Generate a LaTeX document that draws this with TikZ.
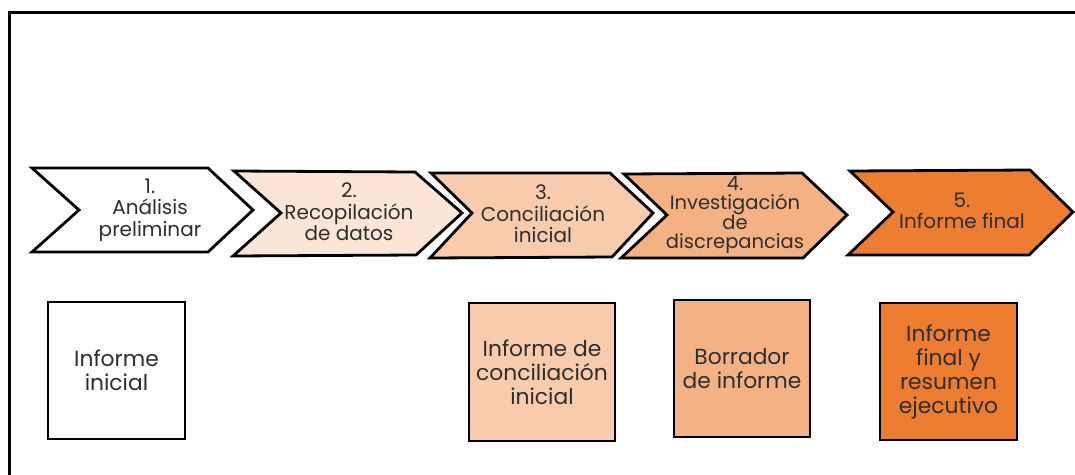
\documentclass[tikz,border=0pt]{standalone}
\usepackage{fontspec}
\setmainfont{Poppins}
\definecolor{txt}{HTML}{2E2E2E}
\definecolor{or1}{HTML}{FBE5D6}
\definecolor{or2}{HTML}{F8CBAD}
\definecolor{or3}{HTML}{F4B183}
\definecolor{or4}{HTML}{ED7D31}
\tikzset{
  chev/.style={draw=black, line width=2.8pt, line join=miter},
  ctext/.style={align=center, text=txt, font=\fontsize{20}{21.5}\selectfont, inner sep=0pt},
  outbox/.style={draw=black, line width=2.8pt, inner sep=0pt, align=center, text=txt, font=\fontsize{21.8}{24}\selectfont},
}
\begin{document}
\begin{tikzpicture}[x=1pt,y=-1pt]
\path[use as bounding box, clip] (0,0) rectangle (1075,474);
\fill[white] (0,0) rectangle (1075,474);
% frame
\draw[line width=3pt] (9,12) rectangle (1090,490);
% chevrons
\draw[chev, fill=white] (32,168) -- (208,168) -- (253,210) -- (208,252) -- (32,252) -- (79,210) -- cycle;
\draw[chev, fill=or1] (234,171) -- (415,172) -- (462,213) -- (416,255) -- (233,256) -- (281,213) -- cycle;
\draw[chev, fill=or2] (431,173) -- (610,173) -- (653,213) -- (612,257) -- (430,258) -- (472,213) -- cycle;
\draw[chev, fill=or3] (624,174) -- (802,173) -- (847,215) -- (803,258) -- (621,258) -- (667,215) -- cycle;
\draw[chev, fill=or4] (850,171) -- (1030,170) -- (1073,212) -- (1029,255) -- (848,255) -- (893,212) -- cycle;
% chevron texts
\node[ctext] (c1) at (150,210) {1.\\Análisis\\preliminar};
\node[ctext] (c2) at (349,212) {2.\\Recopilación\\de datos};
\node[ctext] (c3) at (543,214) {3.\\Conciliación\\inicial};
\node[ctext, font=\fontsize{19.5}{19}\selectfont] (c4) at (735,215) {4.\\Investigación\\de\\discrepancias};
\node[ctext] (c5) at (962,211) {5.\\Informe final};
% output boxes
\node[outbox, fill=white, minimum width=137pt, minimum height=137pt] (b1) at (116.5,370.5) {Informe\\inicial};
\node[outbox, fill=or2, minimum width=146pt, minimum height=138pt] (b3) at (542,372) {Informe de\\conciliación\\inicial};
\node[outbox, fill=or3, minimum width=136pt, minimum height=137pt] (b4) at (742,368.5) {Borrador\\de informe};
\node[outbox, fill=or4, minimum width=137pt, minimum height=137pt] (b5) at (948.5,371.5) {Informe\\final y\\resumen\\ejecutivo};
\end{tikzpicture}
\end{document}
